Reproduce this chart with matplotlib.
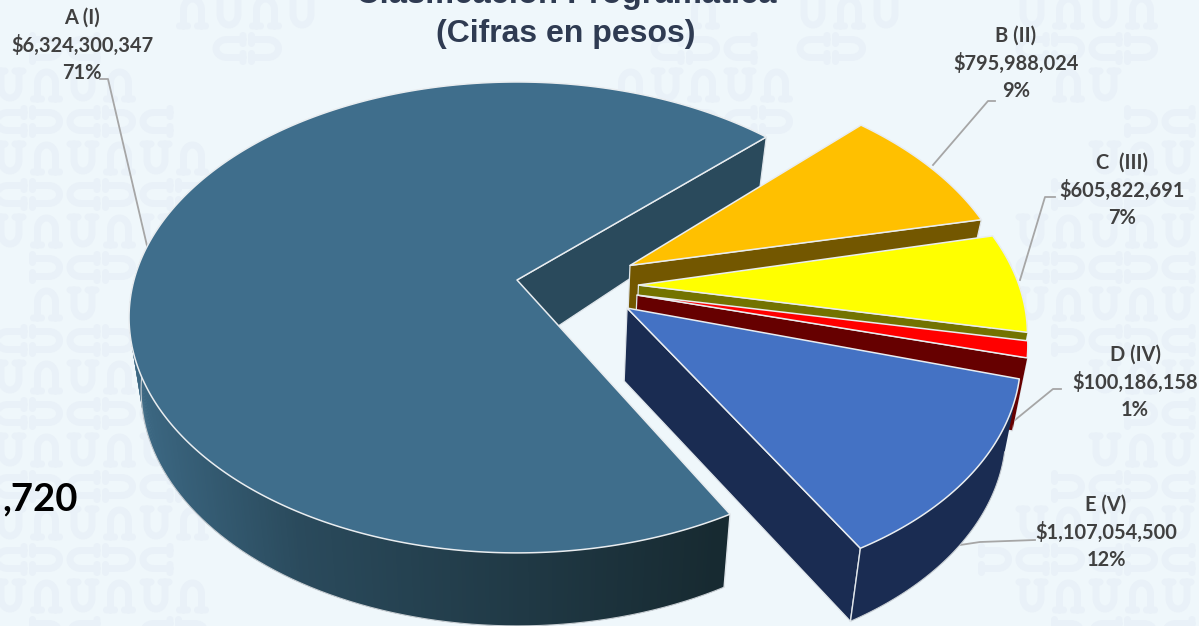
import numpy as np
import matplotlib
matplotlib.use("Agg")
import matplotlib.pyplot as plt
from matplotlib.patches import Polygon
from matplotlib.lines import Line2D
from matplotlib.colors import to_rgb

categories = ["A (I)", "B (II)", "C  (III)", "D (IV)", "E (V)"]
amounts = [6324300347, 795988024, 605822691, 100186158, 1107054500]
amount_labels = ["$6,324,300,347", "$795,988,024", "$605,822,691", "$100,186,158", "$1,107,054,500"]
percent_labels = ["71%", "9%", "7%", "1%", "12%"]
title_lines = ["Clasificación Programática", "(Cifras en pesos)"]
clipped_total = ",720"

top_colors = ["#3f6e8c", "#ffc000", "#ffff00", "#ff0000", "#4472c4"]
side_colors = ["#2a4a5c", "#735700", "#737300", "#660000", "#1a2c52"]
explode = [(0.0, 0.0), (0.298, 0.064), (0.316, -0.022), (0.31, -0.065), (0.282, -0.12)]
rotation = [-0.6, -1.2, -1.8, -2.3, -0.7]
radius = [1.0, 0.99, 0.99, 0.988, 0.987]
label_xy = [(82, 18), (1016, 36), (1122, 163), (1135, 355), (1106, 505)]
leaders = [[(100, 79), (108, 79), (148, 250)],
           [(933, 165), (988, 101), (995, 101)],
           [(1020, 280), (1045, 197), (1055, 197)],
           [(1015, 420), (1053, 389), (1061, 389)],
           [(960, 545), (980, 542), (1035, 540)]]

W, H = 1199, 626
BG = "#eff7fb"
WM = "#e9f1f8"
CX, CY, F, FS, K = 517.0, 280.0, 383.0, 229.5, 0.159

fig = plt.figure(figsize=(W / 100, H / 100), dpi=100, facecolor=BG)
ax = fig.add_axes([0, 0, 1, 1])
ax.set_xlim(0, W)
ax.set_ylim(H, 0)
ax.axis("off")


def project(x, y, bottom=False):
    w = 1 + K * y
    sx = CX + F * x / w
    sy = CY - FS * y / w
    if bottom:
        depth = min(56 + 0.037 * (sy - 135), 74)
        if sy > 250:
            depth = max(depth, 73)
        sx = 530 + (sx - 530) * 0.97
        sy = sy + depth
    return sx, sy


# faint background watermark
def glyph(cx, cy, rot):
    t = np.linspace(0, np.pi, 24)
    px = np.r_[-13, -5, np.nan, -9, -9, -9 * np.cos(t), 9, 9, np.nan, 5, 13]
    py = np.r_[-14, -14, np.nan, -14, 2, 2 + 11 * np.sin(t), 2, -14, np.nan, -14, -14]
    c, s = np.cos(rot), np.sin(rot)
    ax.add_line(Line2D(cx + px * c - py * s, cy + px * s + py * c, color=WM, lw=5.0,
                       solid_capstyle="round", zorder=0))


clusters = [(70, 170, 150), (50, 470, 200), (250, 0, 90), (690, 110, 120), (840, 20, 70),
            (1150, 260, 170), (1090, 20, 90), (1120, 560, 140), (1190, 420, 90), (170, 610, 60)]
cell = 36.5
for i in range(-1, 34):
    for j in range(-1, 19):
        gx, gy = i * cell + 10, j * cell + 12
        if not any(abs(gx - a) + abs(gy - b) < r for a, b, r in clusters):
            continue
        if j % 2 == 0:
            glyph(gx, gy, 0 if i % 2 == 0 else np.pi)
        else:
            glyph(gx, gy, np.pi / 2 if i % 2 == 0 else -np.pi / 2)

# leader lines
for pts in leaders:
    xs, ys = zip(*pts)
    ax.add_line(Line2D(xs, ys, color="#a6a6a6", lw=1.3, zorder=1))

# pie slices from data
amounts_arr = np.array(amounts, dtype=float)
sweeps = amounts_arr / amounts_arr.sum() * 360.0
cursor = 152.0
z = 2


def lerp(c1, c2, f):
    a, b = np.array(to_rgb(c1)), np.array(to_rgb(c2))
    return tuple(a + (b - a) * f)


def a_side_color(sx):
    if sx < 300:
        return lerp("#3c6883", "#2a4a5c", np.clip((sx - 135) / 165, 0, 1))
    return lerp("#2a4a5c", "#172a31", np.clip((sx - 300) / 420, 0, 1))


for idx, sweep in enumerate(sweeps):
    start = cursor + rotation[idx]
    end = start + sweep
    th = np.radians(np.linspace(start, end, max(int(sweep * 2), 8)))
    ox, oy = explode[idx]
    r = radius[idx]
    rx = ox + r * np.sin(th)
    ry = oy + r * np.cos(th)
    top = np.array([project(a, b) for a, b in zip(rx, ry)])
    bot = np.array([project(a, b, True) for a, b in zip(rx, ry)])
    ap_t = project(ox, oy)
    ap_b = project(ox, oy, True)

    # end radial face
    ax.add_patch(Polygon([ap_t, top[-1], bot[-1], ap_b], closed=True, fc=side_colors[idx],
                         ec="#dfe5ea", lw=0.9, zorder=z))
    z += 1
    # outer side
    vis = np.cos(th) < 0.17
    idxs = np.where(vis)[0]
    if len(idxs) > 1:
        k0, k1 = idxs[0], idxs[-1]
        if idx == 0:
            for n in idxs[:-1]:
                col = a_side_color(top[n, 0])
                m = min(n + 2, k1)
                ax.add_patch(Polygon([top[n], top[m], bot[m], bot[n]], closed=True,
                                     fc=col, ec="none", zorder=z))
        else:
            ax.add_patch(Polygon(np.vstack([top[idxs], bot[idxs][::-1]]), closed=True,
                                 fc=side_colors[idx], ec="none", zorder=z))
        if idx in (0, 4):
            ax.add_line(Line2D(bot[idxs, 0], bot[idxs, 1], color="#c8ced3", lw=0.8, zorder=z))
            edge = k0 if idx == 0 else k1
            ax.add_line(Line2D([top[edge, 0], bot[edge, 0]], [top[edge, 1], bot[edge, 1]],
                               color="#dfe5ea", lw=1.0, zorder=z))
    z += 1
    # top face
    ax.add_patch(Polygon(np.vstack([ap_t, top]), closed=True, fc=top_colors[idx],
                         ec="#e9edf0", lw=1.1, joinstyle="round", zorder=z))
    z += 1
    cursor += sweep

# labels
for (lx, ly), c, a, p in zip(label_xy, categories, amount_labels, percent_labels):
    for n, s in enumerate([c, a, p]):
        ax.text(lx, ly + n * 27.4, s, ha="center", va="center", family="Lato",
                weight="bold", fontsize=14.4, color="#404040", zorder=200)

ax.text(566, -5, title_lines[0], ha="center", va="center", family="Liberation Sans", weight="bold",
        fontsize=23.6, color="#2f3b52", zorder=200)
ax.text(566, 34, title_lines[1], ha="center", va="center", family="Liberation Sans", weight="bold",
        fontsize=23.0, color="#2f3b52", zorder=200)
ax.text(2, 499, clipped_total, ha="left", va="center", family="Lato", weight="bold",
        fontsize=27.5, color="#000000", zorder=200)

fig.savefig("out.png", dpi=100, facecolor=BG)
